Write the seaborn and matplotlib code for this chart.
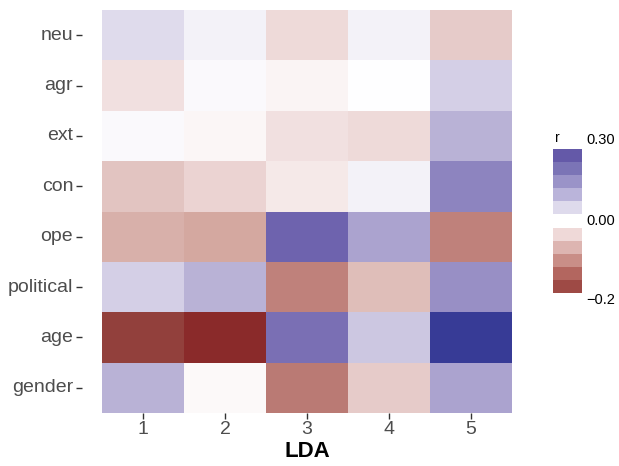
import numpy as np
import pandas as pd
import matplotlib
matplotlib.use('Agg')
import matplotlib.pyplot as plt
from matplotlib.colors import LinearSegmentedColormap, TwoSlopeNorm
from matplotlib.patches import Rectangle
import seaborn as sns

# 데이터
rows = ['neu', 'agr', 'ext', 'con', 'ope', 'political', 'age', 'gender']
lda = [1, 2, 3, 4, 5]
neu = [0.062, 0.023, -0.043, 0.023, -0.060]
agr = [-0.034, 0.012, -0.012, 0.0, 0.084]
ext = [0.012, -0.010, -0.034, -0.043, 0.137]
con = [-0.067, -0.050, -0.026, 0.023, 0.222]
ope = [-0.090, -0.098, 0.281, 0.164, -0.142]
political = [0.084, 0.137, -0.142, -0.074, 0.201]
age = [-0.214, -0.240, 0.257, 0.099, 0.390]
gender = [0.137, -0.007, -0.149, -0.060, 0.164]

# 범례 (구간별 색)
legend_labels = ['0.30', '0.00', '\u22120.2']
legend_blue = ['#6459A8', '#7B74B6', '#9A93C8', '#BAB4DA', '#DEDAEC']
legend_red = ['#EFD9D8', '#DDB5B1', '#C98E87', '#B3665F', '#9E4A45']

df = pd.DataFrame([neu, agr, ext, con, ope, political, age, gender],
                  index=rows, columns=lda)

# 색 지도 : 빨강 - 흰색 - 파랑
red_side = [(1.0, '#FFFFFF'), (0.82, '#EED9D8'), (0.72, '#E2C4C1'),
            (0.59, '#D4A8A0'), (0.41, '#BF817B'), (0.11, '#93423D'), (0.0, '#8A2A2A')]
blue_side = [(0.16, '#DFDBEC'), (0.35, '#B9B2D6'), (0.515, '#988FC5'),
             (0.66, '#7B70B4'), (0.72, '#6F64AE'), (1.0, '#373B96')]
anchors = [(p * 0.5, c) for p, c in sorted(red_side)]
anchors += [(0.5 + f * 0.5, c) for f, c in blue_side]
cmap = LinearSegmentedColormap.from_list('rb', anchors)
norm = TwoSlopeNorm(vmin=-0.24, vcenter=0, vmax=0.39)

plt.rcParams['font.family'] = ['Liberation Sans', 'DejaVu Sans']

fig = plt.figure(figsize=(6.19, 4.66), dpi=100)
# 패널은 타일보다 좌우로 조금 넓음 (ggplot 확장)
ax = fig.add_axes([81.5 / 619, 1 - 413 / 466, 451 / 619, 403 / 466])
sns.heatmap(df, ax=ax, cmap=cmap, norm=norm, cbar=False)
ax.set_xlim(-0.25, 5.25)
ax.tick_params(axis='both', length=4, width=1, color='#333333',
               labelsize=14, labelcolor='#4D4D4D', pad=2)
ax.set_yticklabels(rows, rotation=0)
ax.set_xticklabels([str(v) for v in lda], rotation=0)
ax.set_xlabel('LDA', fontsize=16, fontweight='bold', labelpad=2)
ax.set_ylabel('')

# 범례
lax = fig.add_axes([545 / 619, 1 - 310 / 466, 74 / 619, 180 / 466])
lax.set_xlim(0, 74)
lax.set_ylim(310, 130)
lax.axis('off')
key_h = 13
y0 = 149
for i, c in enumerate(legend_blue):
    lax.add_patch(Rectangle((8, y0 + i * key_h), 29, key_h, color=c, lw=0))
y1 = 228
for i, c in enumerate(legend_red):
    lax.add_patch(Rectangle((8, y1 + i * key_h), 29, key_h, color=c, lw=0))
lax.text(12, 138, 'r', fontsize=10, ha='center', va='center', color='black')
for lab, y in zip(legend_labels, [140, 221, 300]):
    lax.text(41, y, lab, fontsize=10.5, ha='left', va='center', color='black')

fig.savefig('out.png', dpi=100)
